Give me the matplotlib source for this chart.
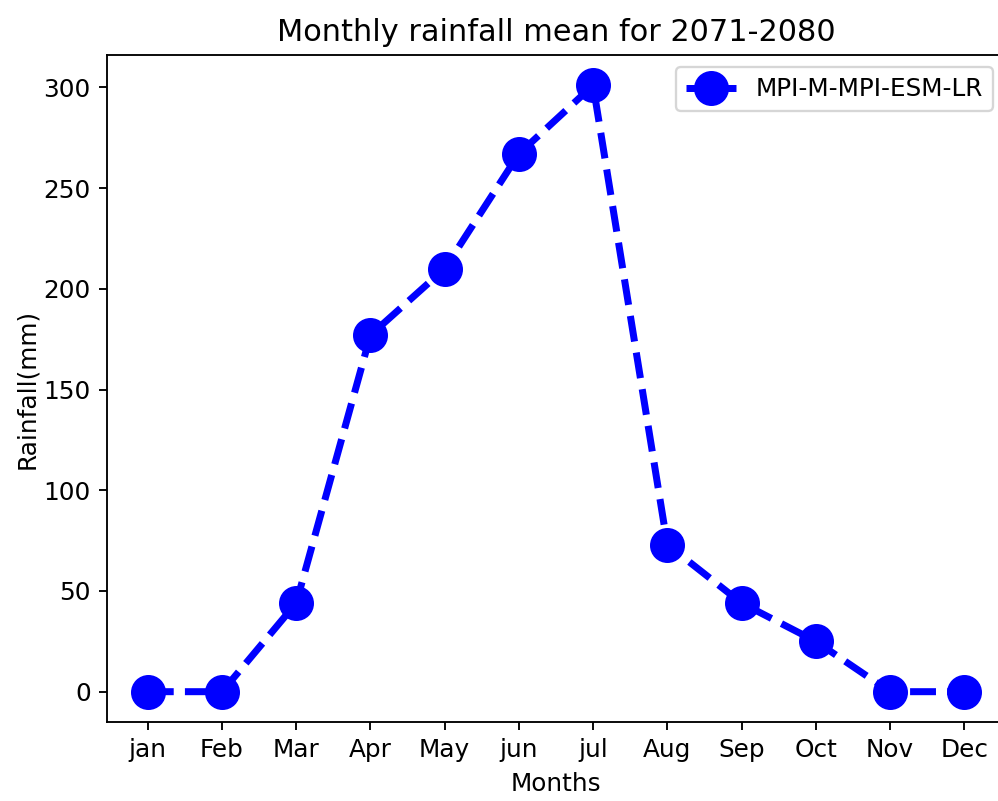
import matplotlib
matplotlib.use('Agg')
from matplotlib import pyplot as plt

months = ["jan", "Feb", "Mar", "Apr", "May", "jun", "jul", "Aug", "Sep", "Oct", "Nov", "Dec"]
rainfall = [0, 0, 44, 177, 210, 267, 301, 73, 44, 25, 0, 0]

plt.rcParams['font.size'] = 10.6
plt.rcParams['axes.titlesize'] = 13

dpi = 168
fig = plt.figure(figsize=(998 / dpi, 801 / dpi), dpi=dpi)
# axes runs a bit past the right edge, like the cropped original
ax = fig.add_axes([107 / 998, 79 / 801, 898 / 998, 667 / 801])
ax.spines['right'].set_visible(False)

ax.plot(months, rainfall, color="blue", linestyle="--", linewidth=3,
        marker="o", markersize=14, label="MPI-M-MPI-ESM-LR")

ax.set_title("Monthly rainfall mean for 2071-2080")
ax.set_xlabel("Months")
ax.set_ylabel("Rainfall(mm)")
ax.yaxis.set_label_coords(-0.076, 0.5)
ax.legend(loc="upper right")

fig.savefig("out.png", dpi=dpi)
